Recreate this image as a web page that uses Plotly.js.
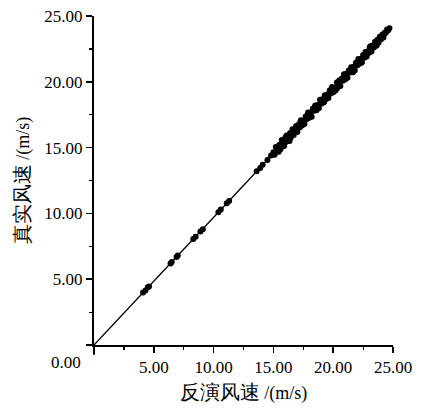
<!DOCTYPE html>
<html>
<head>
<meta charset="utf-8">
<script src="https://cdn.plot.ly/plotly-3.0.1.min.js"></script>
<style>html,body{margin:0;padding:0;background:#fff;}#chart{width:424px;height:409px;}</style>
</head>
<body>
<div id="chart"></div>
<script>
// retrieved wind speed (x) and true wind speed (y), m/s
var retrievedWind = [
  4.1,4.3,4.5,4.6,6.4,6.5,6.9,7.0,8.3,8.5,8.9,9.1,10.4,10.6,11.1,11.3,13.6,13.9,14.1,14.5,14.8,
  15.0,15.1,15.2,15.3,15.35,15.45,15.5,15.6,15.7,15.75,15.8,15.9,16.0,16.05,16.1,16.2,16.3,16.35,16.4,16.5,
  16.6,16.7,16.75,16.8,16.9,17.0,17.1,17.2,17.3,17.4,17.5,17.6,17.7,17.8,17.9,18.0,18.1,18.2,18.3,18.4,
  18.5,18.6,18.7,18.8,18.9,19.0,19.1,19.2,19.3,19.4,19.5,19.6,19.7,19.8,19.9,20.0,20.1,20.2,20.3,20.4,
  20.5,20.6,20.7,20.8,20.9,21.0,21.1,21.2,21.3,21.4,21.5,21.6,21.7,21.8,21.9,22.0,22.1,22.2,22.3,22.4,
  22.5,22.6,22.7,22.8,22.9,23.0,23.1,23.2,23.3,23.4,23.5,23.6,23.7,23.8,23.9,24.0,24.1,24.2,24.3,24.4,
  24.5,24.6,24.7,
  15.55,15.85,16.15,16.45,16.65,16.95,17.25,17.55,17.85,18.15,18.45,19.25,19.75,20.35,21.05,21.65,22.35,23.05,23.65,24.25
];
var trueWind = [
  3.98,4.15,4.38,4.44,6.2,6.3,6.68,6.8,8.05,8.22,8.62,8.8,10.08,10.3,10.78,10.95,13.2,13.45,13.7,14.05,14.4,
  14.65,14.45,15.04,14.74,15.09,14.69,15.19,14.88,15.58,15.18,15.38,15.12,15.77,15.42,15.92,15.51,15.91,15.51,16.11,15.91,
  16.40,15.95,16.35,16.25,16.64,16.19,16.74,16.53,17.08,16.68,17.03,16.82,17.37,17.17,17.66,17.26,17.66,17.35,17.95,17.80,
  18.20,17.84,18.24,17.99,18.63,18.33,18.68,18.42,18.97,18.67,19.02,18.76,19.31,19.11,19.60,19.20,19.55,19.34,19.94,19.69,
  20.09,19.68,20.23,20.08,20.57,20.17,20.57,20.31,20.86,20.71,21.11,20.75,21.15,20.85,21.44,21.24,21.74,21.38,21.73,21.48,
  22.03,21.82,22.27,21.92,22.31,22.21,22.71,22.30,22.75,22.60,23.05,22.74,23.19,22.99,23.43,23.23,23.58,23.37,23.72,23.72,
  23.97,23.91,24.06,
  15.22,15.25,15.85,15.74,16.33,16.28,16.92,16.80,17.48,17.40,18.06,18.48,19.38,19.52,20.60,20.72,21.45,22.58,22.82,23.62
];
// fitted line
var fitX = [0, 24.7];
var fitY = [0, 23.96];
var tickValues = [0, 5, 10, 15, 20, 25];
var tickLabels = ['', '5.00', '10.00', '15.00', '20.00', '25.00'];
var minorTickValues = [2.5, 7.5, 12.5, 17.5, 22.5];

var SERIF = 'Liberation Serif';

var traces = [
  {x: fitX, y: fitY, mode: 'lines', line: {color: '#000000', width: 1.3}, hoverinfo: 'skip', showlegend: false},
  {x: retrievedWind, y: trueWind, mode: 'markers', marker: {color: '#000000', size: 6, symbol: 'circle'}, showlegend: false}
];

function makeAxis(titleText, standoff) {
  return {
    range: [0, 25], showgrid: false, zeroline: false, showline: true, linecolor: '#000000', linewidth: 2,
    tickmode: 'array', ticks: 'outside', ticklen: 6, tickwidth: 1.5, tickcolor: '#000000',
    tickvals: tickValues, ticktext: tickLabels,
    tickfont: {family: SERIF, size: 17, color: '#000000'},
    title: {text: titleText, font: {family: SERIF, size: 18, color: '#000000'}, standoff: standoff},
    fixedrange: true
  };
}
// overlay axes carrying only the short minor ticks
function minorAxis(overlay, side) {
  return {
    overlaying: overlay, side: side, range: [0, 25], showgrid: false, zeroline: false, showline: false,
    tickmode: 'array', tickvals: minorTickValues, ticks: 'outside', ticklen: 4, tickwidth: 1.2, tickcolor: '#000000',
    showticklabels: false, fixedrange: true
  };
}

var layout = {
  width: 424, height: 409,
  margin: {l: 94, r: 31, t: 16, b: 64},
  paper_bgcolor: '#ffffff', plot_bgcolor: '#ffffff',
  font: {family: SERIF, color: '#000000'},
  xaxis: makeAxis('<span style="font-size:20px">反演风速</span> /(m/s)', 10),
  yaxis: makeAxis('<span style="font-size:20px">真实风速</span> /(m/s)', 10),
  xaxis2: minorAxis('x', 'bottom'),
  yaxis2: minorAxis('y', 'left'),
  shapes: [
    {type: 'line', xref: 'paper', yref: 'paper', x0: -0.023, x1: 0, y0: 0, y1: 0, line: {color: '#000000', width: 2}},
    {type: 'line', xref: 'paper', yref: 'paper', x0: 0, x1: 0, y0: -0.03, y1: 0, line: {color: '#000000', width: 2}}
  ],
  annotations: [
    {text: '0.00', xref: 'paper', yref: 'paper', x: -0.094, y: -0.052, xanchor: 'center', yanchor: 'middle',
     showarrow: false, font: {family: SERIF, size: 17, color: '#000000'}}
  ]
};

// an empty trace so the minor-tick axes are drawn
traces.push({x: [], y: [], xaxis: 'x2', yaxis: 'y2', mode: 'markers', showlegend: false, hoverinfo: 'skip'});

Plotly.newPlot('chart', traces, layout, {displayModeBar: false, staticPlot: true});
</script>
</body>
</html>
